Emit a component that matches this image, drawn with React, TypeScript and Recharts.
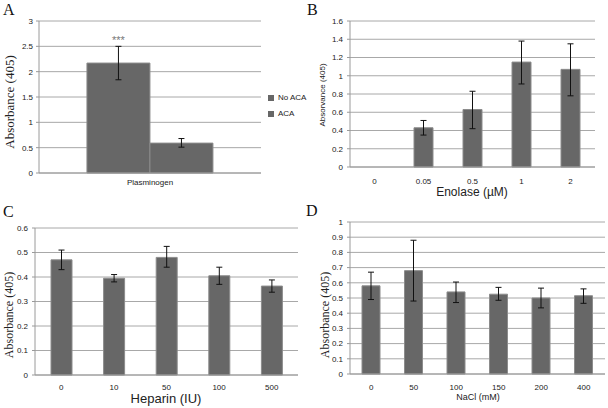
import { Bar, BarChart, CartesianGrid, ErrorBar, LabelList, Legend, XAxis, YAxis } from "recharts";

// Panel A – plasminogen binding
const plasminogenCats = ["Plasminogen"];
const noAcaValues = [2.17];
const noAcaErrors = [[0.33, 0.33]];
const acaValues = [0.59];
const acaErrors = [[0.08, 0.09]];
const ticksA = [0, 0.5, 1, 1.5, 2, 2.5, 3];

// Panel B – enolase
const enolaseCats = ["0", "0.05", "0.5", "1", "2"];
const enolaseValues = [null, 0.43, 0.63, 1.15, 1.07];
const enolaseErrors = [null, [0.08, 0.08], [0.21, 0.2], [0.24, 0.23], [0.29, 0.28]];
const ticksB = [0, 0.2, 0.4, 0.6, 0.8, 1, 1.2, 1.4, 1.6];

// Panel C – heparin
const heparinCats = ["0", "10", "50", "100", "500"];
const heparinValues = [0.47, 0.395, 0.48, 0.405, 0.363];
const heparinErrors = [[0.04, 0.04], [0.015, 0.015], [0.04, 0.045], [0.035, 0.035], [0.025, 0.025]];
const ticksC = [0, 0.1, 0.2, 0.3, 0.4, 0.5, 0.6];

// Panel D – NaCl
const naclCats = ["0", "50", "100", "150", "200", "400"];
const naclValues = [0.58, 0.68, 0.54, 0.525, 0.5, 0.515];
const naclErrors = [[0.09, 0.09], [0.2, 0.2], [0.07, 0.065], [0.04, 0.045], [0.065, 0.065], [0.05, 0.045]];
const ticksD = [0, 0.1, 0.2, 0.3, 0.4, 0.5, 0.6, 0.7, 0.8, 0.9, 1];

const BAR_FILL = "#676767";
const BAR_STROKE = "#8c8c8c";
const GRID = "#a8a8a8";
const AXIS = "#9a9a9a";
const TICK = { fontSize: 8, fill: "#222" };
const SERIF = "'Liberation Serif', 'Times New Roman', serif";
const SANS = "'Liberation Sans', Arial, sans-serif";

const dataA = plasminogenCats.map((c, i) => ({
  name: c,
  noAca: noAcaValues[i],
  noAcaErr: noAcaErrors[i],
  aca: acaValues[i],
  acaErr: acaErrors[i],
}));

const toRows = (cats: string[], vals: (number | null)[], errs: (number[] | null)[]) =>
  cats.map((c, i) => ({ name: c, value: vals[i], err: errs[i] }));

const dataB = toRows(enolaseCats, enolaseValues, enolaseErrors);
const dataC = toRows(heparinCats, heparinValues, heparinErrors);
const dataD = toRows(naclCats, naclValues, naclErrors);

function Letter({ x, y, text }: { x: number; y: number; text: string }) {
  return (
    <div style={{ position: "absolute", left: x, top: y, fontFamily: SERIF, fontSize: 16, lineHeight: "16px", color: "#111" }}>
      {text}
    </div>
  );
}

function VLabel({ cx, cy, text, font, size }: { cx: number; cy: number; text: string; font: string; size: number }) {
  return (
    <div
      style={{
        position: "absolute",
        left: cx,
        top: cy,
        transform: "translate(-50%, -50%) rotate(-90deg)",
        whiteSpace: "nowrap",
        fontFamily: font,
        fontSize: size,
        color: "#222",
      }}
    >
      {text}
    </div>
  );
}

function HLabel({ cx, cy, text, size }: { cx: number; cy: number; text: string; size: number }) {
  return (
    <div
      style={{
        position: "absolute",
        left: cx,
        top: cy,
        transform: "translate(-50%, -50%)",
        whiteSpace: "nowrap",
        fontFamily: SANS,
        fontSize: size,
        color: "#222",
      }}
    >
      {text}
    </div>
  );
}

function SimplePanel({
  data,
  ticks,
  width,
  height,
  margin,
  yWidth,
  xHeight,
  xGap,
  barSize,
}: {
  data: any[];
  ticks: number[];
  width: number;
  height: number;
  margin: { top: number; right: number; left: number; bottom: number };
  yWidth: number;
  xHeight: number;
  xGap: number;
  barSize: number;
}) {
  return (
    <BarChart width={width} height={height} data={data} margin={margin}>
      <CartesianGrid vertical={false} stroke={GRID} />
      <XAxis
        dataKey="name"
        height={xHeight}
        tick={TICK}
        tickLine={false}
        tickSize={4}
        tickMargin={xGap}
        stroke={AXIS}
        interval={0}
      />
      <YAxis
        width={yWidth}
        domain={[ticks[0], ticks[ticks.length - 1]]}
        ticks={ticks}
        tick={TICK}
        tickSize={3}
        tickMargin={4}
        stroke={AXIS}
        interval={0}
      />
      <Bar dataKey="value" fill={BAR_FILL} stroke={BAR_STROKE} barSize={barSize} isAnimationActive={false}>
        <ErrorBar dataKey="err" width={3} stroke="#111" strokeWidth={1} />
      </Bar>
    </BarChart>
  );
}

export default function App() {
  return (
    <div
      style={{
        position: "fixed",
        left: 0,
        top: 0,
        width: 608,
        height: 408,
        background: "#fff",
        fontFamily: SANS,
        overflow: "hidden",
      }}
    >
      {/* Panel A */}
      <div style={{ position: "absolute", left: 0, top: 0 }}>
        <BarChart
          width={310}
          height={200}
          data={dataA}
          margin={{ top: 21, right: 49, left: 0, bottom: 0 }}
          barCategoryGap="21.6%"
          barGap={0}
        >
          <CartesianGrid vertical={false} stroke={GRID} />
          <XAxis dataKey="name" height={27} tick={TICK} tickLine={false} tickSize={4} tickMargin={2} stroke={AXIS} />
          <YAxis
            width={39}
            domain={[0, 3]}
            ticks={ticksA}
            tick={TICK}
            tickSize={3}
            tickMargin={3}
            stroke={AXIS}
            interval={0}
          />
          <Legend
            layout="vertical"
            align="center"
            verticalAlign="middle"
            iconType="square"
            iconSize={6}
            itemSorter={(item: any) => (item.dataKey === "noAca" ? 0 : 1)}
            wrapperStyle={{ left: 268, top: 90, width: 60, fontSize: 8, lineHeight: "16px", color: "#222" }}
            formatter={(v: string) => <span style={{ color: "#222" }}>{v}</span>}
          />
          <Bar dataKey="noAca" name="No ACA" fill={BAR_FILL} stroke={BAR_STROKE} isAnimationActive={false}>
            <ErrorBar dataKey="noAcaErr" width={3} stroke="#111" strokeWidth={1} />
            <LabelList position="top" offset={19} valueAccessor={() => "***"} fill="#777" fontSize={11} />
          </Bar>
          <Bar dataKey="aca" name="ACA" fill={BAR_FILL} stroke={BAR_STROKE} isAnimationActive={false}>
            <ErrorBar dataKey="acaErr" width={3} stroke="#111" strokeWidth={1} />
          </Bar>
        </BarChart>
      </div>

      {/* Panel B */}
      <div style={{ position: "absolute", left: 300, top: 0 }}>
        <SimplePanel
          data={dataB}
          ticks={ticksB}
          width={308}
          height={200}
          margin={{ top: 21, right: 13, left: 0, bottom: 0 }}
          yWidth={50}
          xHeight={33}
          xGap={7}
          barSize={19}
        />
      </div>

      {/* Panel C */}
      <div style={{ position: "absolute", left: 0, top: 195 }}>
        <SimplePanel
          data={dataC}
          ticks={ticksC}
          width={300}
          height={213}
          margin={{ top: 33, right: 2, left: 0, bottom: 0 }}
          yWidth={35}
          xHeight={33}
          xGap={5}
          barSize={21}
        />
      </div>

      {/* Panel D */}
      <div style={{ position: "absolute", left: 300, top: 195 }}>
        <SimplePanel
          data={dataD}
          ticks={ticksD}
          width={308}
          height={213}
          margin={{ top: 27, right: 3, left: 0, bottom: 0 }}
          yWidth={50}
          xHeight={34}
          xGap={6}
          barSize={18}
        />
      </div>

      <Letter x={3} y={2} text="A" />
      <Letter x={307} y={2} text="B" />
      <Letter x={3} y={204} text="C" />
      <Letter x={306} y={203} text="D" />

      <VLabel cx={10} cy={102} text="Absorbance (405)" font={SERIF} size={13} />
      <VLabel cx={322} cy={95} text="Absorvance (405)" font={SANS} size={8} />
      <VLabel cx={9} cy={315} text="Absorbance (405)" font={SERIF} size={12} />
      <VLabel cx={325} cy={315} text="Absorbance (405)" font={SERIF} size={12} />

      <HLabel cx={472} cy={192} text="Enolase (µM)" size={12} />
      <HLabel cx={166} cy={398} text="Heparin (IU)" size={13} />
      <HLabel cx={478} cy={397} text="NaCl (mM)" size={9} />
    </div>
  );
}
